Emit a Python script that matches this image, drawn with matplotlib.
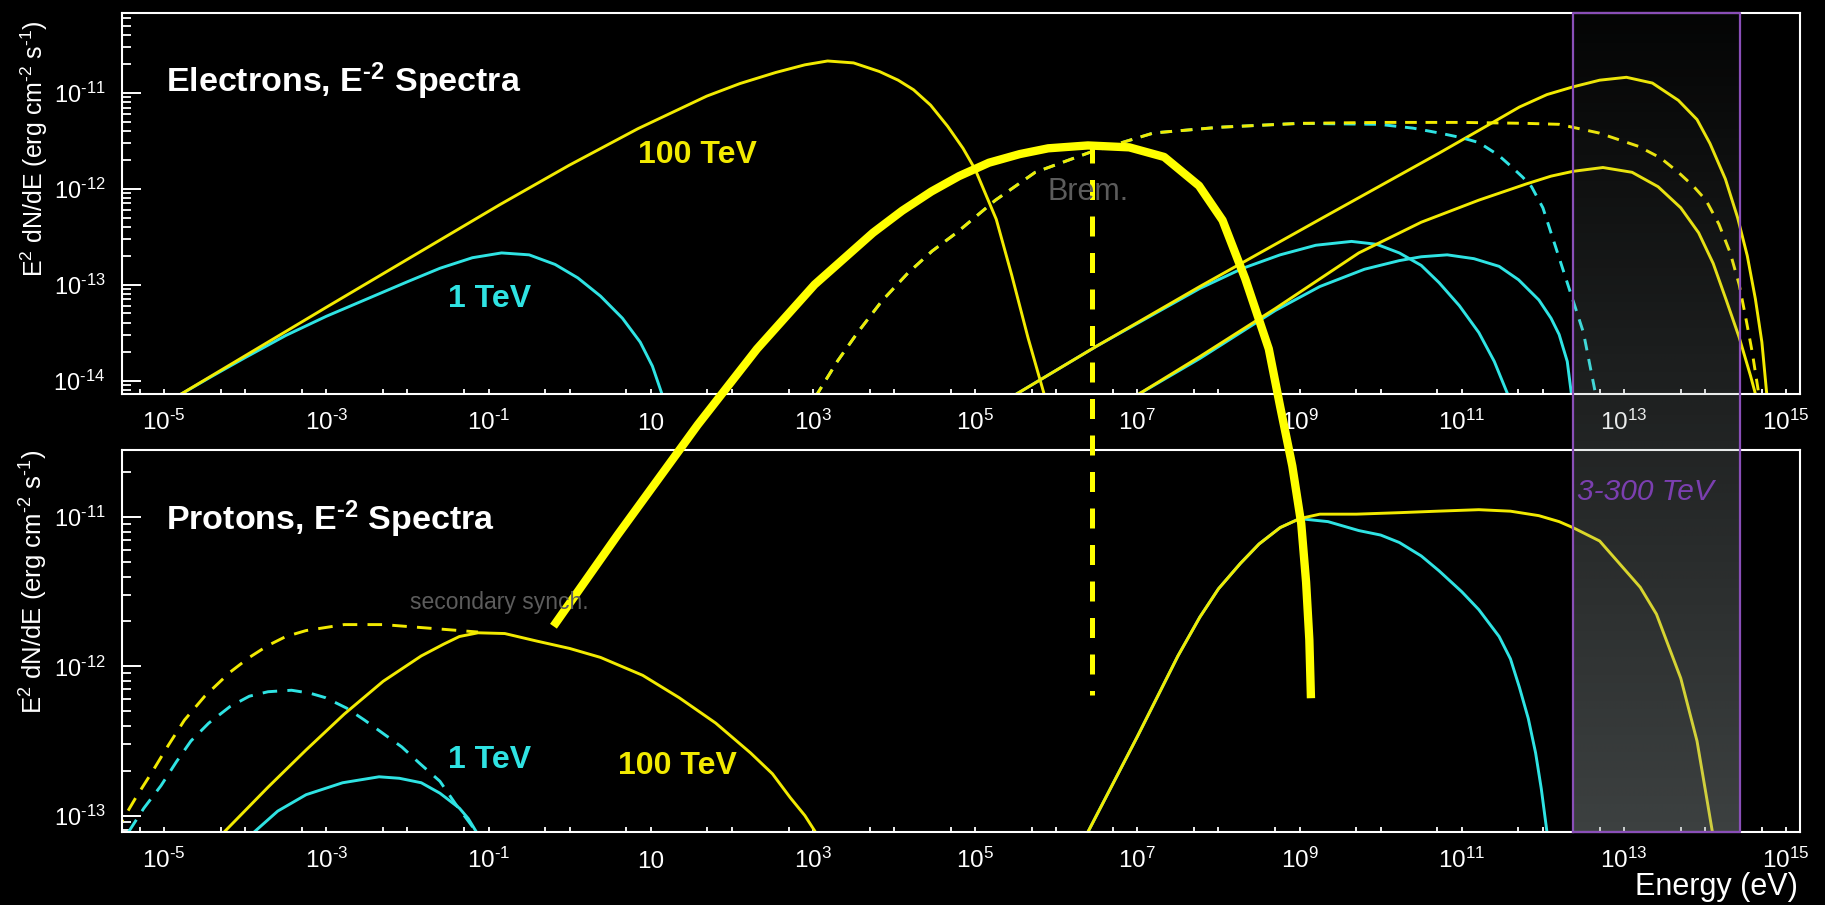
import numpy as np
import matplotlib
matplotlib.use("Agg")
import matplotlib.pyplot as plt
from matplotlib import transforms
from matplotlib.ticker import FixedLocator, NullFormatter, FuncFormatter

plt.rcParams['font.family'] = ['Liberation Sans', 'DejaVu Sans']
plt.rcParams['mathtext.fontset'] = 'custom'
plt.rcParams['mathtext.rm'] = 'Liberation Sans'
plt.rcParams['mathtext.it'] = 'Liberation Sans:italic'
plt.rcParams['mathtext.bf'] = 'Liberation Sans:bold'

HY = '\u2010'  # short hyphen used in the superscripts

# ---- data (log10 energy [eV], log10 E^2 dN/dE [erg cm^-2 s^-1]) ----
# electrons panel
syn100_e = [-4.85, -3.0, -0.857, -0.007, 0.84, 1.69, 2.1, 2.54, 2.9, 3.18, 3.5, 3.82, 4.05, 4.24, 4.45, 4.66, 4.85, 5.0, 5.26, 5.45, 5.65, 5.87]
syn100_f = [-14.17, -13.236, -12.165, -11.757, -11.376, -11.036, -10.905, -10.79, -10.71, -10.67, -10.69, -10.78, -10.87, -10.97, -11.13, -11.35, -11.58, -11.80, -12.32, -12.9, -13.55, -14.2]

syn1_e = [-4.85, -4.4, -4.0, -3.5, -3.0, -2.5, -2.0, -1.6, -1.2, -0.84, -0.5, -0.18, 0.1, 0.38, 0.65, 0.87, 1.02, 1.15]
syn1_f = [-14.17, -13.95, -13.76, -13.53, -13.33, -13.15, -12.97, -12.83, -12.72, -12.67, -12.69, -12.79, -12.93, -13.12, -13.35, -13.6, -13.85, -14.17]

brem100_e = [3.03, 3.3, 3.55, 3.85, 4.17, 4.47, 4.77, 5.25, 5.74, 6.42, 7.2, 8.02, 9.0, 10.0, 11.0, 11.8, 12.2, 12.69, 13.18, 13.45, 13.67, 13.85, 14.01, 14.17, 14.31, 14.42, 14.5, 14.58, 14.66]
brem100_f = [-14.17, -13.8, -13.5, -13.17, -12.88, -12.65, -12.46, -12.12, -11.83, -11.62, -11.42, -11.36, -11.32, -11.31, -11.31, -11.32, -11.33, -11.42, -11.56, -11.68, -11.83, -11.97, -12.12, -12.37, -12.67, -13.0, -13.34, -13.7, -14.13]

brem1_e = [3.03, 3.3, 3.55, 3.85, 4.17, 4.47, 4.77, 5.25, 5.74, 6.42, 7.2, 8.02, 9.0, 9.98, 10.4, 10.72, 11.0, 11.21, 11.45, 11.61, 11.75, 11.86, 12.0, 12.1, 12.2, 12.3, 12.4, 12.5, 12.57, 12.64]
brem1_f = [-14.17, -13.8, -13.5, -13.17, -12.88, -12.65, -12.46, -12.12, -11.83, -11.62, -11.42, -11.36, -11.32, -11.33, -11.37, -11.42, -11.47, -11.52, -11.65, -11.77, -11.88, -11.98, -12.2, -12.46, -12.72, -12.98, -13.24, -13.5, -13.8, -14.1]

ic100a_e = [5.45, 6.5, 7.77, 9.25, 10.72, 11.3, 11.71, 12.05, 12.37, 12.7, 13.03, 13.35, 13.67, 13.9, 14.06, 14.25, 14.4, 14.52, 14.62, 14.7, 14.76]
ic100a_f = [-14.17, -13.64, -13.02, -12.32, -11.63, -11.35, -11.15, -11.02, -10.94, -10.87, -10.84, -10.9, -11.08, -11.28, -11.53, -11.9, -12.3, -12.7, -13.15, -13.6, -14.14]

ic1a_e = [5.45, 6.5, 7.77, 8.3, 8.76, 9.2, 9.64, 9.95, 10.23, 10.5, 10.72, 10.97, 11.21, 11.4, 11.56]
ic1a_f = [-14.17, -13.64, -13.04, -12.83, -12.69, -12.59, -12.55, -12.58, -12.67, -12.8, -12.98, -13.22, -13.5, -13.8, -14.13]

ic100b_e = [6.96, 7.77, 8.7, 9.73, 10.5, 11.21, 11.8, 12.1, 12.37, 12.74, 13.1, 13.42, 13.7, 13.92, 14.1, 14.26, 14.42, 14.56, 14.63]
ic100b_f = [-14.17, -13.75, -13.25, -12.67, -12.35, -12.12, -11.95, -11.87, -11.82, -11.78, -11.83, -11.98, -12.2, -12.46, -12.78, -13.16, -13.55, -13.95, -14.17]

ic1b_e = [6.96, 7.77, 8.7, 9.25, 9.8, 10.23, 10.5, 10.82, 11.15, 11.46, 11.7, 11.95, 12.1, 12.2, 12.3, 12.35]
ic1b_f = [-14.17, -13.77, -13.27, -13.02, -12.84, -12.75, -12.71, -12.69, -12.73, -12.81, -12.95, -13.16, -13.35, -13.52, -13.8, -14.13]

# protons panel
ssyn100_e = [-5.6, -5.35, -5.14, -4.95, -4.75, -4.5, -4.19, -3.95, -3.72, -3.5, -3.25, -2.78, -2.30, -1.83, -1.36, -1.13]
ssyn100_f = [-13.11, -12.88, -12.70, -12.53, -12.36, -12.2, -12.04, -11.94, -11.86, -11.80, -11.76, -11.72, -11.72, -11.74, -11.76, -11.77]

ssyn1_e = [-5.44, -5.25, -5.04, -4.85, -4.67, -4.45, -4.19, -3.95, -3.72, -3.43, -3.2, -3.01, -2.75, -2.53, -2.3, -2.07, -1.85, -1.60, -1.41, -1.15]
ssyn1_f = [-13.11, -12.95, -12.80, -12.64, -12.50, -12.38, -12.27, -12.20, -12.17, -12.16, -12.18, -12.21, -12.28, -12.36, -12.45, -12.54, -12.65, -12.77, -12.92, -13.11]

psyn100_e = [-4.26, -3.72, -3.25, -2.78, -2.3, -1.83, -1.55, -1.36, -1.13, -0.8, -0.41, 0.0, 0.38, 0.9, 1.35, 1.8, 2.23, 2.5, 2.72, 2.9, 3.03]
psyn100_f = [-13.11, -12.81, -12.56, -12.32, -12.10, -11.93, -11.85, -11.80, -11.775, -11.78, -11.83, -11.88, -11.94, -12.06, -12.21, -12.38, -12.58, -12.72, -12.88, -13.0, -13.11]

psyn1_e = [-3.89, -3.6, -3.25, -2.8, -2.35, -2.1, -1.83, -1.6, -1.36, -1.25, -1.15]
psyn1_f = [-13.11, -12.97, -12.86, -12.78, -12.74, -12.75, -12.78, -12.85, -12.95, -13.02, -13.11]

pi100_e = [6.39, 7.0, 7.5, 7.77, 8.0, 8.27, 8.5, 8.76, 9.0, 9.25, 9.7, 10.23, 10.7, 11.21, 11.6, 11.95, 12.2, 12.37, 12.7, 13.2, 13.4, 13.7, 13.9, 14.0, 14.09]
pi100_f = [-13.11, -12.47, -11.93, -11.67, -11.48, -11.31, -11.18, -11.07, -11.01, -10.98, -10.98, -10.97, -10.96, -10.95, -10.96, -10.99, -11.03, -11.07, -11.16, -11.47, -11.65, -12.08, -12.5, -12.82, -13.11]

pi1_e = [6.39, 7.0, 7.5, 7.77, 8.0, 8.27, 8.5, 8.76, 9.0, 9.35, 9.73, 10.0, 10.23, 10.5, 10.72, 11.0, 11.21, 11.46, 11.6, 11.71, 11.82, 11.91, 11.98, 12.05]
pi1_f = [-13.11, -12.47, -11.93, -11.67, -11.48, -11.31, -11.18, -11.07, -11.01, -11.03, -11.09, -11.12, -11.17, -11.26, -11.36, -11.5, -11.62, -11.80, -11.95, -12.14, -12.35, -12.58, -12.82, -13.11]

# hand-drawn overlay (in electron-panel units)
thick_e = [-0.2, 0.59, 1.58, 2.31, 3.02, 3.74, 4.1, 4.46, 4.8, 5.17, 5.55, 5.9, 6.39, 6.9, 7.33, 7.76, 8.05, 8.33, 8.62, 8.76, 8.91, 9.02, 9.08, 9.12, 9.14]
thick_f = [-16.56, -15.61, -14.46, -13.67, -13.0, -12.46, -12.23, -12.03, -11.87, -11.73, -11.64, -11.58, -11.55, -11.57, -11.67, -11.97, -12.33, -12.94, -13.67, -14.27, -14.89, -15.49, -16.1, -16.7, -17.31]
brem_line_e = [6.44, 6.44]
brem_line_f = [-11.52, -17.28]

band_e = [12.37, 14.43]   # 3-300 TeV window

x_lim = [-5.52, 15.17]
ylim_top = [-14.14, -10.17]
ylim_bot = [-13.11, -10.55]
x_label_exp = [-5, -3, -1, 1, 3, 5, 7, 9, 11, 13, 15]

YEL = '#f2ea00'
CYA = '#2fe3e3'
GRY = '#5c5c5c'
PUR = '#8a4fb8'

W, H = 1825, 905
fig = plt.figure(figsize=(W / 100, H / 100), dpi=100, facecolor='black')


def fx(px):
    return px / W


def fy(py):
    return 1 - py / H


def p(e):
    return 10.0 ** np.asarray(e)


def sup(n):
    return str(n).replace('-', HY)


ax_top = fig.add_axes([fx(122), fy(394), fx(1800) - fx(122), fy(13) - fy(394)])
ax_bot = fig.add_axes([fx(122), fy(832), fx(1800) - fx(122), fy(450) - fy(832)])
ax_top.set_zorder(3)
ax_bot.set_zorder(2)


def setup(ax, ylim, yexp, ylab_size):
    ax.set_xscale('log')
    ax.set_yscale('log')
    ax.set_xlim(p(x_lim[0]), p(x_lim[1]))
    ax.set_ylim(p(ylim[0]), p(ylim[1]))
    ax.set_facecolor('none')
    for s in ax.spines.values():
        s.set_color('white')
        s.set_linewidth(1.5)
    ax.xaxis.set_major_locator(FixedLocator(p(np.arange(-5, 16))))
    ax.xaxis.set_minor_locator(FixedLocator(5 * p(np.arange(-6, 15))))
    ax.xaxis.set_major_formatter(NullFormatter())
    ax.xaxis.set_minor_formatter(NullFormatter())
    ax.tick_params(axis='x', which='both', direction='in', length=3.5, width=1.3,
                   color='white', top=False)
    ax.yaxis.set_major_locator(FixedLocator(p(yexp)))
    ax.yaxis.set_minor_locator(FixedLocator([m * 10.0 ** k for k in range(-15, -9) for m in range(2, 10)]))
    ax.yaxis.set_major_formatter(FuncFormatter(
        lambda v, pos: '$\\mathregular{10^{%s}}$' % sup(int(round(np.log10(v))))))
    ax.yaxis.set_minor_formatter(NullFormatter())
    ax.tick_params(axis='y', which='major', direction='in', length=14, width=1.4,
                   colors='white', labelsize=17, pad=12, right=False)
    ax.tick_params(axis='y', which='minor', direction='in', length=6.5, width=1.3,
                   color='white', right=False)
    tr = transforms.offset_copy(ax.get_xaxis_transform(), fig=fig, y=-26, units='points')
    for e in x_label_exp:
        lab = '10' if e == 1 else '$\\mathregular{10^{%s}}$' % sup(e)
        ax.text(p(e), 0, lab, transform=tr, ha='center', va='baseline', color='white', fontsize=17.5)
    ax.set_ylabel('E$\\mathregular{^2}$ dN/dE (erg cm$\\mathregular{^{%s}}$ s$\\mathregular{^{%s}}$)'
                  % (sup(-2), sup(-1)), color='white', fontsize=ylab_size, loc='top')


setup(ax_top, ylim_top, [-14, -13, -12, -11], 18)
setup(ax_bot, ylim_bot, [-13, -12, -11], 18.5)
ax_top.yaxis.set_label_coords(-0.043, 0.982)
ax_bot.yaxis.set_label_coords(-0.043, 1.0)

LW = 2.1
DSH = (4, 3)

# electrons
ax_top.plot(p(syn1_e), p(syn1_f), color=CYA, lw=LW)
ax_top.plot(p(syn100_e), p(syn100_f), color=YEL, lw=LW)
ax_top.plot(p(ic1a_e), p(ic1a_f), color=CYA, lw=LW)
ax_top.plot(p(ic1b_e), p(ic1b_f), color=CYA, lw=LW)
ax_top.plot(p(ic100a_e), p(ic100a_f), color=YEL, lw=LW)
ax_top.plot(p(ic100b_e), p(ic100b_f), color=YEL, lw=LW)
ax_top.plot(p(brem1_e), p(brem1_f), color=CYA, lw=LW, dashes=DSH)
ax_top.plot(p(brem100_e), p(brem100_f), color=YEL, lw=LW, dashes=DSH)

# protons
ax_bot.plot(p(ssyn1_e), p(ssyn1_f), color=CYA, lw=LW, dashes=(5, 3.5))
ax_bot.plot(p(ssyn100_e), p(ssyn100_f), color=YEL, lw=LW, dashes=(5, 3.5))
ax_bot.plot(p(psyn1_e), p(psyn1_f), color=CYA, lw=LW)
ax_bot.plot(p(psyn100_e), p(psyn100_f), color=YEL, lw=LW)
ax_bot.plot(p(pi1_e), p(pi1_f), color=CYA, lw=LW)
ax_bot.plot(p(pi100_e), p(pi100_f), color=YEL, lw=LW)

# overlay drawn across both panels
ax_top.plot(p(thick_e), p(thick_f), color='#ffff00', lw=6, clip_on=False,
            solid_capstyle='butt', solid_joinstyle='round', zorder=6)
ax_top.plot(p(brem_line_e), p(brem_line_f), color='#ffff00', lw=3.6, clip_on=False,
            dashes=(4.0, 3.3), zorder=6)

# shaded 3-300 TeV window spanning both panels (x in log10 units)
ax_ov = fig.add_axes([fx(122), fy(832), fx(1800) - fx(122), fy(13) - fy(832)])
ax_ov.set_zorder(5)
ax_ov.axis('off')
grad = np.zeros((256, 1, 4))
grad[:, 0, 0] = 0.6
grad[:, 0, 1] = 0.64
grad[:, 0, 2] = 0.64
grad[:, 0, 3] = np.linspace(0.4, 0.03, 256)
ax_ov.imshow(grad, extent=[band_e[0], band_e[1], 0, 1], origin='lower', aspect='auto',
             interpolation='bilinear')
ax_ov.set_xlim(x_lim)
ax_ov.set_ylim(0, 1)
ax_ov.plot([band_e[0], band_e[0], band_e[1], band_e[1], band_e[0]], [0, 1, 1, 0, 0],
           color=PUR, lw=1.6, clip_on=False)

# text
fig.text(fx(166), fy(92), 'Electrons, $\\mathbf{E^{%s}}$ Spectra' % sup(-2), color='white', fontsize=24.5,
         fontweight='bold', ha='left', va='baseline')
fig.text(fx(166), fy(530), 'Protons, $\\mathbf{E^{%s}}$ Spectra' % sup(-2), color='white', fontsize=24.5,
         fontweight='bold', ha='left', va='baseline')
fig.text(fx(638), fy(163), '100 TeV', color=YEL, fontsize=23, fontweight='bold', va='baseline')
fig.text(fx(448), fy(307), '1 TeV', color=CYA, fontsize=23, fontweight='bold', va='baseline')
fig.text(fx(448), fy(768), '1 TeV', color=CYA, fontsize=23, fontweight='bold', va='baseline')
fig.text(fx(618), fy(774), '100 TeV', color=YEL, fontsize=23, fontweight='bold', va='baseline')
fig.text(fx(1047), fy(200), 'Brem.', color=GRY, fontsize=22, va='baseline')
fig.text(fx(410), fy(609), 'secondary synch.', color=GRY, fontsize=16.5, va='baseline')
fig.text(fx(1577), fy(500), '3-300 TeV', color='#7b3fb0', fontsize=21.5, style='italic',
         va='baseline', zorder=10)
fig.text(fx(1798), fy(895), 'Energy (eV)', color='white', fontsize=22, ha='right', va='baseline')

fig.savefig('out.png', dpi=100, facecolor='black')
